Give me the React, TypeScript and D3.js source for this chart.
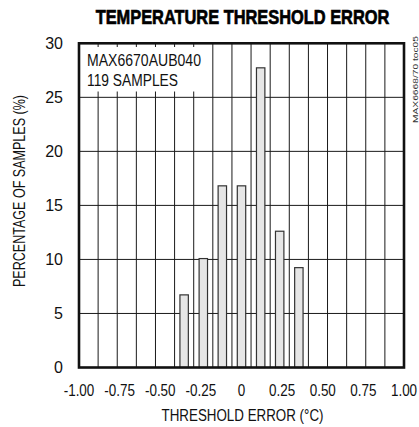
import React from 'react';
import * as d3 from 'd3';

// histogram bins (°C, bin centers) and share of the 119 samples (%)
const binCenters = [-0.353, -0.235, -0.118, 0, 0.118, 0.235, 0.353];
const percentages = [6.72, 10.08, 16.81, 16.81, 27.73, 12.61, 9.24];

const xTicks = [-1, -0.75, -0.5, -0.25, 0, 0.25, 0.5, 0.75, 1];
const xTickLabels = ['-1.00', '-0.75', '-0.50', '-0.25', '0', '0.25', '0.50', '0.75', '1.00'];
const yTicks = [0, 5, 10, 15, 20, 25, 30];

const binCount = 17;
const binWidth = 2 / binCount;

const width = 419;
const height = 427;
const margin = { top: 43.3, right: 15, bottom: 59.5, left: 79 };

const FONT = '"Liberation Sans", Arial, sans-serif';

export default function App() {
  const x = d3.scaleLinear()
    .domain([-1, 1])
    .range([margin.left, width - margin.right]);

  const y = d3.scaleLinear()
    .domain([0, 30])
    .range([height - margin.bottom, margin.top]);

  const gridX = d3.range(1, binCount).map(i => -1 + i * binWidth);
  const barW = binWidth * 0.44;

  const x0 = x(-1);
  const x1 = x(1);
  const y0 = y(0);
  const y1 = y(30);

  return (
    <svg width={width} height={height}
      style={{ position: 'absolute', left: 0, top: 0, background: '#fff' }}>
      {/* title */}
      <text transform="translate(242.5,24) scale(0.8,1)" textAnchor="middle"
        style={{ fontFamily: FONT, fontSize: 20.5, fontWeight: 'bold' }}
        stroke="#000" strokeWidth={0.7}>
        TEMPERATURE THRESHOLD ERROR
      </text>

      {/* grid */}
      <g stroke="#1a1a1a" strokeWidth={1}>
        {gridX.map((d, i) => (
          <line key={'gx' + i} x1={x(d)} x2={x(d)} y1={y1} y2={y0} />
        ))}
        {yTicks.slice(1, -1).map(d => (
          <line key={'gy' + d} x1={x0} x2={x1} y1={y(d)} y2={y(d)} />
        ))}
      </g>

      {/* label box */}
      <rect x={x0 + 1} y={47} width={124} height={44.5} fill="#fff" />
      <text x={87} y={66} textLength={114} lengthAdjust="spacingAndGlyphs"
        style={{ fontFamily: FONT, fontSize: 16.8 }} fill="#111">MAX6670AUB040</text>
      <text x={87} y={86} textLength={91} lengthAdjust="spacingAndGlyphs"
        style={{ fontFamily: FONT, fontSize: 16.8 }} fill="#111">119 SAMPLES</text>

      {/* bars */}
      {binCenters.map((c, i) => (
        <rect key={'b' + i}
          x={x(c - barW / 2)}
          y={y(percentages[i])}
          width={x(c + barW / 2) - x(c - barW / 2)}
          height={y0 - y(percentages[i])}
          fill="#e6e6e6" stroke="#333" strokeWidth={1.2} />
      ))}

      {/* frame */}
      <rect x={x0} y={y1} width={x1 - x0} height={y0 - y1}
        fill="none" stroke="#111" strokeWidth={2.6} />

      {/* y ticks */}
      {yTicks.map(d => (
        <text key={'yt' + d} x={63} y={y(d) + 1} textAnchor="end" dominantBaseline="middle"
          style={{ fontFamily: FONT, fontSize: 16 }} fill="#111">
          {d}
        </text>
      ))}

      {/* x ticks */}
      {xTicks.map((d, i) => (
        <text key={'xt' + i} transform={`translate(${x(d)},396) scale(0.8,1)`} textAnchor="middle"
          style={{ fontFamily: FONT, fontSize: 16.8 }} fill="#111">
          {xTickLabels[i]}
        </text>
      ))}

      {/* axis titles */}
      <text x={242.5} y={421} textAnchor="middle" textLength={162} lengthAdjust="spacingAndGlyphs"
        style={{ fontFamily: FONT, fontSize: 16.3 }} fill="#111">
        THRESHOLD ERROR (°C)
      </text>
      <text transform="translate(25,191) rotate(-90)" textAnchor="middle"
        textLength={192} lengthAdjust="spacingAndGlyphs"
        style={{ fontFamily: FONT, fontSize: 16.3 }} fill="#111">
        PERCENTAGE OF SAMPLES (%)
      </text>

      {/* figure id */}
      <text transform="translate(418,123) rotate(-90)" textLength={87} lengthAdjust="spacingAndGlyphs"
        style={{ fontFamily: FONT, fontSize: 7.5 }} fill="#333">
        MAX6668/70 toc05
      </text>
    </svg>
  );
}
